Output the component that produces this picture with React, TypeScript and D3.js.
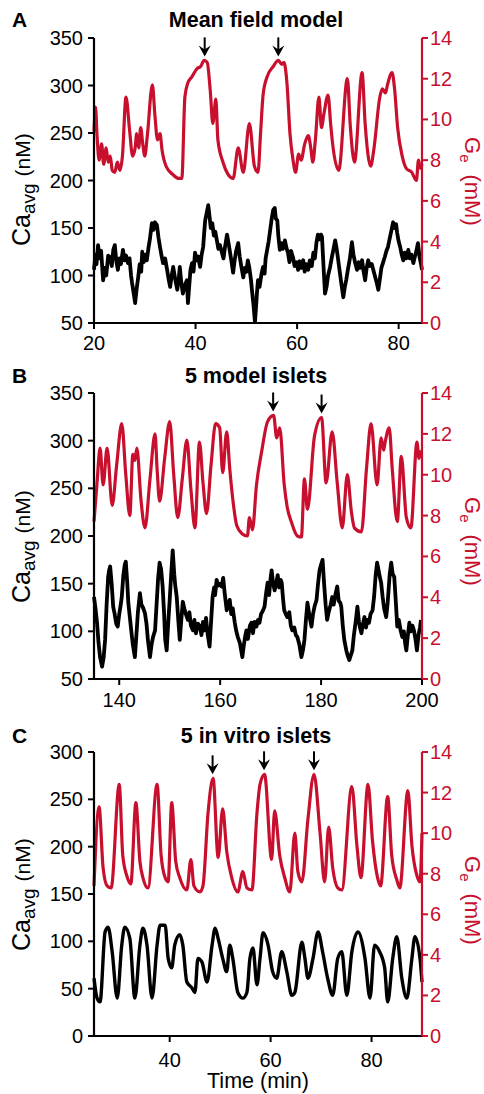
import * as d3 from "d3";

type Pt = [number, number];

const RED = "#c8102e";
const FONT = "'Liberation Sans', Arial, Helvetica, sans-serif";
const W = 484;
const H = 1094;
const LEFT = 94;
const RIGHT = 422;

const GE_DOMAIN = [0, 14];
const GE_TICKS = [0, 2, 4, 6, 8, 10, 12, 14];

// ---- panel A: mean field model
const A_TITLE = "Mean field model";
const A_TIME_DOMAIN = [20, 84.6];
const A_TIME_TICKS = [20, 40, 60, 80];
const A_CA_DOMAIN = [50, 350];
const A_CA_TICKS = [50, 100, 150, 200, 250, 300, 350];
const A_ARROWS: Pt[] = [[41.8, 12.9], [56.3, 12.9]];
const A_GE: Pt[] = [
  [20.0, 9.4], [20.3, 10.6], [20.6, 9.2], [21.0, 8.0], [21.5, 8.8], [21.9, 7.8], [22.4, 8.6], [22.8, 7.9],
  [23.2, 8.2], [23.6, 7.5], [24.1, 7.4], [24.6, 7.9], [25.1, 7.5], [25.6, 8.2], [26.3, 11.1], [27.0, 9.5],
  [27.6, 8.2], [28.1, 8.6], [28.4, 9.3], [28.8, 8.6], [29.2, 9.6], [29.6, 8.8], [30.0, 8.2], [30.5, 9.2],
  [31.5, 11.7], [32.0, 10.2], [32.5, 9.0], [33.0, 9.3], [33.4, 8.5], [34.2, 7.7], [35.5, 7.3], [36.7, 7.1],
  [37.3, 7.1], [37.9, 11.1], [38.5, 11.8], [39.3, 12.1], [40.3, 12.5], [41.0, 12.6], [41.7, 12.9], [42.3, 12.8],
  [42.9, 11.4], [43.4, 9.8], [44.0, 11.0], [44.4, 9.0], [45.4, 7.9], [46.4, 7.3], [47.4, 7.1], [48.4, 8.6],
  [49.4, 7.4], [50.6, 9.8], [51.6, 7.7], [52.3, 7.4], [52.8, 9.3], [53.3, 11.2], [54.1, 12.1], [55.3, 12.6],
  [56.3, 12.9], [57.0, 12.7], [57.4, 12.8], [58.0, 11.8], [58.6, 9.3], [59.2, 8.0], [59.7, 7.4], [60.3, 8.3],
  [60.8, 8.0], [61.5, 8.8], [62.2, 9.2], [62.7, 8.6], [63.1, 7.9], [63.6, 9.0], [64.3, 11.1], [64.8, 9.6],
  [65.3, 10.3], [66.1, 11.2], [66.6, 9.8], [67.0, 8.8], [68.2, 7.5], [69.9, 12.0], [70.5, 9.6], [71.3, 7.9],
  [72.8, 12.3], [73.4, 9.8], [74.5, 7.7], [75.1, 8.5], [76.3, 11.1], [76.8, 11.5], [77.4, 11.3], [77.8, 11.7],
  [78.7, 12.3], [79.2, 11.5], [79.8, 9.6], [80.7, 8.2], [81.5, 7.6], [82.6, 7.4], [83.5, 7.0], [83.9, 8.0],
  [84.3, 7.6], [84.6, 7.8],
];
const A_CA: Pt[] = [
  [20.0, 106], [20.3, 122], [20.5, 112], [20.8, 132], [21.1, 118], [21.4, 126], [21.8, 95], [22.1, 108],
  [22.4, 100], [22.8, 121], [23.2, 119], [23.5, 110], [23.8, 127], [24.1, 132], [24.4, 115], [24.7, 106],
  [25.0, 118], [25.3, 112], [25.7, 127], [26.0, 116], [26.3, 121], [26.7, 113], [27.0, 118], [27.3, 100],
  [27.5, 92], [27.8, 82], [28.1, 71], [28.4, 86], [28.7, 98], [29.0, 112], [29.3, 104], [29.5, 125],
  [29.8, 114], [30.1, 122], [30.4, 116], [30.7, 128], [31.0, 138], [31.4, 155], [31.7, 148], [32.0, 156],
  [32.4, 153], [32.7, 140], [33.0, 130], [33.3, 121], [33.6, 113], [34.0, 118], [34.4, 106], [34.7, 96],
  [35.0, 88], [35.3, 100], [35.6, 109], [36.0, 96], [36.4, 85], [36.7, 97], [36.9, 109], [37.2, 92],
  [37.5, 81], [37.9, 90], [38.3, 95], [38.5, 71], [38.8, 92], [39.0, 106], [39.3, 113], [39.6, 104],
  [39.9, 124], [40.2, 116], [40.5, 120], [40.9, 109], [41.2, 122], [41.5, 130], [41.7, 145], [41.9, 158],
  [42.2, 166], [42.5, 174], [42.8, 160], [43.0, 150], [43.3, 155], [43.6, 142], [43.9, 146], [44.2, 137],
  [44.5, 128], [44.8, 132], [45.2, 124], [45.5, 118], [45.8, 130], [46.2, 143], [46.5, 134], [46.8, 124],
  [47.1, 114], [47.4, 103], [47.7, 116], [48.0, 126], [48.4, 134], [48.7, 120], [49.0, 110], [49.4, 98],
  [49.7, 108], [50.0, 104], [50.3, 116], [50.6, 108], [50.9, 96], [51.1, 85], [51.4, 70], [51.7, 51],
  [51.9, 66], [52.1, 82], [52.3, 95], [52.6, 88], [53.0, 102], [53.3, 109], [53.6, 102], [53.8, 118],
  [54.1, 127], [54.4, 136], [54.7, 148], [55.0, 160], [55.3, 169], [55.6, 171], [55.8, 160], [56.1, 158],
  [56.3, 142], [56.6, 127], [56.9, 134], [57.2, 128], [57.6, 137], [57.9, 129], [58.2, 124], [58.5, 114],
  [58.8, 126], [59.2, 119], [59.5, 110], [59.9, 114], [60.2, 106], [60.5, 115], [60.8, 108], [61.2, 116],
  [61.5, 104], [61.8, 112], [62.2, 106], [62.5, 116], [62.9, 110], [63.2, 124], [63.5, 118], [63.8, 134],
  [64.1, 143], [64.4, 138], [64.7, 143], [64.9, 141], [65.2, 110], [65.5, 81], [65.8, 88], [66.1, 100],
  [66.5, 109], [66.8, 118], [67.1, 126], [67.5, 137], [67.8, 128], [68.1, 116], [68.4, 104], [68.7, 92],
  [69.1, 77], [69.4, 88], [69.7, 96], [70.0, 106], [70.4, 118], [70.8, 135], [71.1, 122], [71.4, 114],
  [71.8, 106], [72.1, 114], [72.4, 108], [72.8, 116], [73.1, 104], [73.4, 95], [73.7, 108], [74.0, 116],
  [74.3, 110], [74.7, 112], [75.0, 106], [75.3, 100], [75.7, 92], [76.0, 85], [76.3, 96], [76.6, 108],
  [76.9, 113], [77.3, 120], [77.6, 126], [77.9, 130], [78.2, 138], [78.6, 148], [78.9, 156], [79.2, 150],
  [79.5, 154], [79.7, 145], [80.0, 136], [80.3, 130], [80.6, 122], [80.9, 116], [81.2, 124], [81.5, 118],
  [81.9, 127], [82.2, 118], [82.5, 122], [82.9, 113], [83.2, 120], [83.5, 126], [83.8, 134], [84.1, 120],
  [84.4, 112], [84.6, 106],
];

// ---- panel B: 5 model islets
const B_TITLE = "5 model islets";
const B_TIME_DOMAIN = [135, 200];
const B_TIME_TICKS = [140, 160, 180, 200];
const B_CA_DOMAIN = [50, 350];
const B_CA_TICKS = [50, 100, 150, 200, 250, 300, 350];
const B_ARROWS: Pt[] = [[170.5, 12.9], [180.1, 12.8]];
const B_GE: Pt[] = [
  [135.0, 7.7], [135.6, 9.6], [136.2, 11.3], [136.8, 9.5], [137.6, 11.3], [138.6, 8.5], [139.5, 10.5], [140.5, 12.5],
  [141.3, 10.0], [142.1, 8.0], [142.7, 11.0], [143.1, 10.7], [143.5, 11.3], [144.3, 8.8], [145.1, 7.4], [146.1, 9.8],
  [147.1, 12.0], [147.5, 10.3], [148.0, 8.7], [149.0, 10.8], [150.0, 12.6], [150.8, 10.0], [151.6, 7.9], [152.5, 9.8],
  [153.4, 11.7], [154.2, 9.3], [155.0, 7.4], [155.9, 11.6], [156.6, 9.6], [157.3, 8.1], [158.2, 10.5], [159.1, 12.5],
  [159.9, 12.3], [160.5, 10.1], [161.3, 12.1], [161.9, 10.3], [162.6, 8.6], [163.3, 7.5], [164.4, 7.1], [165.4, 7.0],
  [165.8, 7.9], [166.4, 7.3], [167.2, 9.5], [168.2, 11.1], [169.4, 12.6], [170.6, 12.9], [171.2, 11.8], [171.8, 12.3],
  [172.7, 9.5], [173.3, 8.4], [174.1, 7.7], [175.3, 7.0], [176.1, 6.95], [176.7, 9.8], [177.3, 8.3], [178.7, 11.9],
  [180.1, 12.8], [181.0, 9.6], [182.2, 12.1], [183.2, 9.6], [184.2, 7.4], [185.2, 10.0], [186.0, 8.2], [186.6, 7.4],
  [188.0, 7.2], [189.0, 10.3], [189.9, 12.5], [191.1, 9.5], [191.9, 11.8], [192.4, 11.2], [192.7, 11.6], [193.5, 12.3],
  [194.1, 10.3], [195.1, 7.7], [195.9, 10.9], [196.9, 7.9], [197.8, 7.4], [199.0, 11.6], [199.4, 10.8], [199.8, 11.2],
];
const B_CA: Pt[] = [
  [135.0, 136], [135.3, 124], [135.6, 109], [135.9, 88], [136.2, 73], [136.6, 63], [136.9, 72], [137.2, 91],
  [137.5, 128], [137.8, 157], [138.0, 164], [138.2, 168], [138.5, 150], [138.8, 126], [139.1, 118], [139.4, 108],
  [139.7, 105], [140.0, 118], [140.3, 128], [140.5, 136], [140.8, 158], [141.1, 170], [141.3, 173], [141.6, 150],
  [141.8, 130], [142.1, 115], [142.4, 100], [142.7, 86], [143.1, 73], [143.4, 96], [143.7, 120], [144.1, 140],
  [144.4, 128], [144.7, 125], [145.1, 119], [145.4, 108], [145.7, 90], [146.1, 73], [146.4, 86], [146.7, 94],
  [147.1, 101], [147.4, 128], [147.7, 155], [148.0, 172], [148.3, 165], [148.6, 147], [148.9, 118], [149.1, 92],
  [149.4, 80], [149.7, 108], [150.0, 133], [150.3, 160], [150.6, 185], [150.9, 160], [151.1, 148], [151.4, 136],
  [151.7, 112], [152.0, 91], [152.3, 112], [152.6, 131], [152.9, 124], [153.2, 118], [153.6, 112], [153.9, 120],
  [154.2, 106], [154.6, 101], [154.9, 112], [155.2, 98], [155.6, 108], [156.0, 105], [156.3, 96], [156.6, 110],
  [156.9, 101], [157.2, 114], [157.5, 98], [157.9, 84], [158.2, 110], [158.5, 136], [158.8, 146], [159.0, 138],
  [159.3, 154], [159.6, 148], [160.0, 150], [160.3, 147], [160.6, 156], [160.9, 140], [161.3, 122], [161.6, 128],
  [161.9, 133], [162.2, 118], [162.5, 124], [162.9, 109], [163.2, 100], [163.5, 94], [163.9, 88], [164.4, 73],
  [164.7, 86], [165.0, 96], [165.2, 101], [165.5, 92], [165.9, 106], [166.2, 109], [166.5, 98], [166.8, 110],
  [167.2, 105], [167.5, 112], [167.8, 109], [168.1, 118], [168.5, 122], [168.8, 126], [169.1, 140], [169.4, 151],
  [169.7, 138], [170.0, 156], [170.2, 164], [170.5, 150], [170.8, 143], [171.1, 150], [171.4, 159], [171.7, 146],
  [172.0, 154], [172.2, 151], [172.5, 132], [172.7, 122], [173.0, 118], [173.3, 115], [173.7, 120], [174.0, 106],
  [174.3, 101], [174.7, 104], [175.0, 96], [175.3, 94], [175.7, 86], [176.1, 73], [176.4, 80], [176.7, 91],
  [177.0, 112], [177.3, 130], [177.7, 116], [178.1, 105], [178.4, 118], [178.7, 126], [179.1, 133], [179.4, 150],
  [179.7, 164], [180.0, 170], [180.3, 175], [180.6, 150], [180.9, 128], [181.2, 112], [181.5, 120], [181.9, 128],
  [182.2, 136], [182.5, 128], [182.9, 140], [183.2, 147], [183.5, 132], [183.8, 130], [184.0, 126], [184.3, 106],
  [184.6, 91], [185.0, 80], [185.3, 74], [185.6, 70], [185.9, 75], [186.2, 80], [186.5, 96], [186.9, 112],
  [187.2, 126], [187.5, 110], [187.7, 104], [188.0, 98], [188.3, 108], [188.6, 115], [188.9, 104], [189.2, 112],
  [189.5, 109], [189.8, 118], [190.2, 122], [190.5, 136], [190.8, 158], [191.1, 172], [191.4, 164], [191.6, 158],
  [191.9, 151], [192.2, 136], [192.5, 124], [192.9, 115], [193.2, 130], [193.6, 160], [193.9, 172], [194.2, 160],
  [194.5, 157], [194.8, 132], [195.1, 105], [195.4, 112], [195.8, 100], [196.1, 94], [196.4, 100], [196.7, 86],
  [196.9, 80], [197.2, 96], [197.5, 109], [197.8, 100], [198.1, 106], [198.4, 101], [198.7, 92], [199.0, 80],
  [199.3, 96], [199.6, 104], [199.8, 112],
];

// ---- panel C: 5 in vitro islets
const C_TITLE = "5 in vitro islets";
const C_TIME_DOMAIN = [25, 90];
const C_TIME_TICKS = [40, 60, 80];
const C_CA_DOMAIN = [0, 300];
const C_CA_TICKS = [0, 50, 100, 150, 200, 250, 300];
const C_ARROWS: Pt[] = [[48.5, 12.7], [58.7, 12.9], [68.6, 12.9]];
const C_GE: Pt[] = [
  [25.0, 7.4], [26.0, 11.3], [26.8, 8.3], [27.6, 7.4], [28.4, 7.3], [30.0, 12.4], [30.7, 8.9], [31.5, 7.9],
  [32.3, 7.5], [33.3, 11.5], [34.1, 8.6], [34.7, 7.8], [35.7, 7.3], [37.5, 12.4], [38.3, 8.9], [39.1, 7.8],
  [39.7, 7.6], [40.4, 11.5], [41.2, 8.6], [42.0, 7.8], [43.4, 7.2], [44.2, 8.7], [44.8, 7.4], [46.0, 7.1],
  [46.6, 7.4], [47.6, 11.0], [48.6, 12.7], [49.6, 8.8], [50.5, 11.2], [51.3, 9.1], [52.3, 7.8], [53.5, 7.1],
  [54.5, 8.1], [55.3, 7.3], [56.3, 7.2], [57.3, 11.0], [57.9, 12.4], [58.8, 12.9], [60.2, 8.7], [60.8, 11.1],
  [61.8, 8.9], [62.8, 7.8], [63.8, 7.1], [64.8, 10.0], [65.4, 8.1], [66.2, 7.6], [67.4, 10.7], [68.6, 12.9],
  [69.8, 10.0], [70.7, 7.6], [71.5, 10.3], [72.3, 8.3], [73.3, 7.3], [74.1, 7.2], [76.1, 12.3], [77.1, 9.4],
  [77.9, 7.8], [79.3, 12.4], [80.2, 9.6], [81.2, 7.8], [81.8, 7.4], [83.2, 11.8], [84.0, 8.9], [85.0, 7.7],
  [85.6, 7.3], [87.2, 12.1], [88.0, 9.4], [89.0, 7.9], [89.6, 7.6], [90.0, 10.0],
];
const C_CA: Pt[] = [
  [25.0, 61], [25.6, 40], [26.2, 36], [27.2, 110], [27.8, 115], [28.6, 89], [29.6, 40], [30.5, 96],
  [31.1, 115], [32.1, 103], [33.1, 40], [34.1, 96], [34.7, 114], [35.5, 96], [36.5, 40], [37.5, 96],
  [38.1, 117], [39.1, 117], [39.7, 82], [40.4, 72], [41.0, 96], [42.0, 107], [42.6, 96], [43.4, 57],
  [44.4, 51], [45.0, 46], [45.6, 82], [46.4, 78], [47.4, 57], [48.4, 96], [49.0, 114], [49.6, 103],
  [50.5, 82], [51.3, 68], [51.9, 96], [52.5, 82], [53.5, 46], [54.5, 40], [55.3, 46], [55.9, 82],
  [56.5, 93], [57.3, 54], [57.9, 82], [58.5, 109], [59.5, 96], [60.4, 68], [61.2, 61], [62.2, 89],
  [63.2, 68], [64.2, 43], [64.8, 46], [66.2, 99], [66.8, 82], [67.4, 61], [68.4, 82], [69.4, 110],
  [70.3, 89], [71.3, 61], [72.3, 43], [73.3, 82], [74.1, 89], [75.1, 43], [76.1, 89], [77.3, 110],
  [78.7, 82], [79.7, 40], [80.6, 96], [81.6, 89], [82.6, 72], [83.2, 36], [84.2, 82], [85.0, 105],
  [86.0, 61], [87.0, 40], [88.0, 82], [88.6, 105], [89.6, 82], [90.0, 57],
];

type PanelCfg = {
  letter: string; title: string; timeDomain: number[]; timeTicks: number[];
  caDomain: number[]; caTicks: number[]; ge: Pt[]; ca: Pt[]; arrows: Pt[]; smoothCa: boolean;
  top: number; bottom: number; titleY: number; xLabelDy: number; caLabelY: number; geLabelY: number;
};

const PANELS: PanelCfg[] = [
  { letter: "A", title: A_TITLE, timeDomain: A_TIME_DOMAIN, timeTicks: A_TIME_TICKS, caDomain: A_CA_DOMAIN,
    caTicks: A_CA_TICKS, ge: A_GE, ca: A_CA, arrows: A_ARROWS, smoothCa: false,
    top: 38, bottom: 323, titleY: 27, xLabelDy: 27, caLabelY: 246, geLabelY: 137 },
  { letter: "B", title: B_TITLE, timeDomain: B_TIME_DOMAIN, timeTicks: B_TIME_TICKS, caDomain: B_CA_DOMAIN,
    caTicks: B_CA_TICKS, ge: B_GE, ca: B_CA, arrows: B_ARROWS, smoothCa: false,
    top: 393, bottom: 679, titleY: 383, xLabelDy: 28, caLabelY: 603, geLabelY: 497 },
  { letter: "C", title: C_TITLE, timeDomain: C_TIME_DOMAIN, timeTicks: C_TIME_TICKS, caDomain: C_CA_DOMAIN,
    caTicks: C_CA_TICKS, ge: C_GE, ca: C_CA, arrows: C_ARROWS, smoothCa: true,
    top: 752, bottom: 1036, titleY: 743, xLabelDy: 31, caLabelY: 951, geLabelY: 856 },
];

function Panel({ p }: { p: PanelCfg }) {
  const x = d3.scaleLinear().domain(p.timeDomain).range([LEFT, RIGHT]);
  const yCa = d3.scaleLinear().domain(p.caDomain).range([p.bottom, p.top]);
  const yGe = d3.scaleLinear().domain(GE_DOMAIN).range([p.bottom, p.top]);

  const caLine = d3.line<Pt>().x((d) => x(d[0])).y((d) => yCa(d[1]))
    .curve(p.smoothCa ? d3.curveMonotoneX : d3.curveLinear);
  const geLine = d3.line<Pt>().x((d) => x(d[0])).y((d) => yGe(d[1])).curve(d3.curveMonotoneX);

  return (
    <g>
      <text x={12} y={p.titleY} fontSize={21} fontWeight="bold">{p.letter}</text>
      <text x={256} y={p.titleY} fontSize={21.5} fontWeight="bold" textAnchor="middle">{p.title}</text>

      <path d={geLine(p.ge) || ""} fill="none" stroke={RED} strokeWidth={3.2} strokeLinejoin="round" />
      <path d={caLine(p.ca) || ""} fill="none" stroke="#000" strokeWidth={p.smoothCa ? 3.4 : 3.8}
        strokeLinejoin="round" />

      {/* arrows over the long plateaus */}
      {p.arrows.map(([t, g], i) => {
        const ax = x(t);
        const ay = yGe(g) - 4;
        return (
          <g key={i} transform={`translate(${ax},${ay})`}>
            <line x1={0} x2={0} y1={-19} y2={-6} stroke="#000" strokeWidth={2} />
            <path d="M0,0 L-6,-11 L0,-7 L6,-11 Z" fill="#000" />
          </g>
        );
      })}

      {/* left axis */}
      <line x1={LEFT} x2={LEFT} y1={p.top} y2={p.bottom} stroke="#000" strokeWidth={2.2} />
      {p.caTicks.map((v) => (
        <g key={v}>
          <line x1={LEFT - 6} x2={LEFT} y1={yCa(v)} y2={yCa(v)} stroke="#000" strokeWidth={2} />
          <text x={LEFT - 11} y={yCa(v) + 7} fontSize={20} textAnchor="end">{v}</text>
        </g>
      ))}

      {/* bottom axis */}
      <line x1={LEFT - 1} x2={RIGHT} y1={p.bottom} y2={p.bottom} stroke="#000" strokeWidth={2.2} />
      {p.timeTicks.map((v) => (
        <g key={v}>
          <line x1={x(v)} x2={x(v)} y1={p.bottom} y2={p.bottom + 6} stroke="#000" strokeWidth={2} />
          <text x={x(v)} y={p.bottom + p.xLabelDy} fontSize={20} textAnchor="middle">{v}</text>
        </g>
      ))}

      {/* right axis */}
      <line x1={RIGHT} x2={RIGHT} y1={p.top} y2={p.bottom} stroke={RED} strokeWidth={2.2} />
      {GE_TICKS.map((v) => (
        <g key={v}>
          <line x1={RIGHT} x2={RIGHT + 6} y1={yGe(v)} y2={yGe(v)} stroke={RED} strokeWidth={2} />
          <text x={RIGHT + 8} y={yGe(v) + 7} fontSize={20} fill={RED}>{v}</text>
        </g>
      ))}

      <text transform={`translate(30,${p.caLabelY}) rotate(-90)`} fontSize={25}>
        Ca<tspan fontSize={19} dy={5}>avg</tspan>
        <tspan fontSize={21} dy={-5} dx={7}>(nM)</tspan>
      </text>
      <text transform={`translate(465,${p.geLabelY}) rotate(90)`} fontSize={22} fill={RED}>
        G<tspan fontSize={15} dy={5}>e</tspan>
        <tspan dy={-5} dx={12}>(mM)</tspan>
      </text>
    </g>
  );
}

export default function App() {
  return (
    <div style={{ position: "absolute", left: 0, top: 0 }}>
      <svg width={W} height={H} fontFamily={FONT} style={{ display: "block", background: "#fff" }}>
        {PANELS.map((p) => (
          <Panel key={p.letter} p={p} />
        ))}
        <text x={258} y={1088} fontSize={21.5} textAnchor="middle">Time (min)</text>
      </svg>
    </div>
  );
}
